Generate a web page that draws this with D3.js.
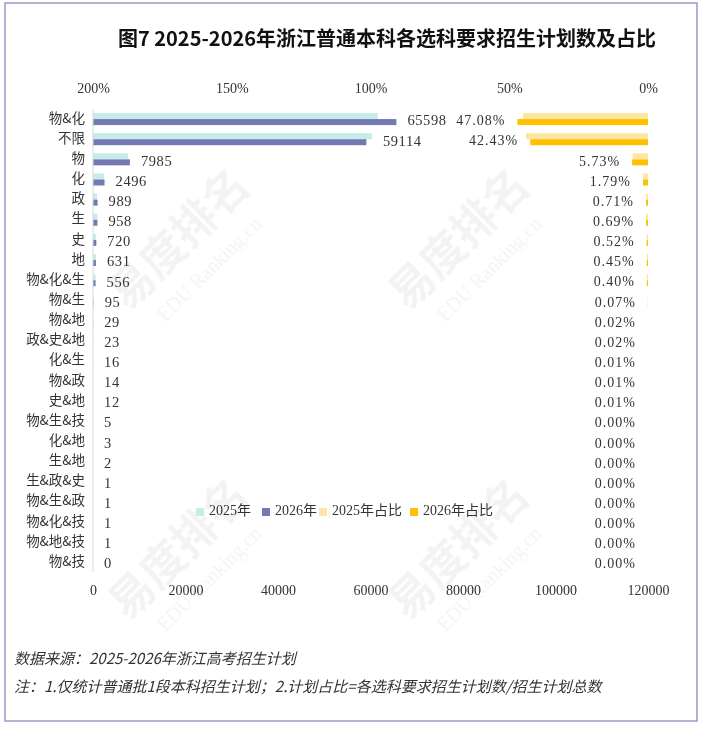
<!DOCTYPE html>
<html>
  <head>
    <meta charset="utf-8" />
    <title>图7 选科要求招生计划数及占比</title>
    <script src="https://d3js.org/d3.v7.min.js"></script>
    <style>
      body { margin: 0; background: #ffffff; }
      text { font-family: "Liberation Serif", "Noto Sans CJK SC", serif; fill: #333333; }
      .cjk { font-family: "Noto Sans CJK SC", sans-serif; }
    </style>
  </head>
  <body>
    <svg id="chart" width="706" height="732"></svg>
  </body>
  <script>
    // data
    var categories = ["物&化", "不限", "物", "化", "政", "生", "史", "地", "物&化&生", "物&生",
      "物&地", "政&史&地", "化&生", "物&政", "史&地", "物&生&技", "化&地", "生&地",
      "生&政&史", "物&生&政", "物&化&技", "物&地&技", "物&技"];
    var plan2025 = [61600, 60300, 7570, 2380, 870, 950, 680, 650, 560, 150,
      40, 30, 20, 20, 15, 8, 5, 3, 2, 2, 1, 1, 1];
    var plan2026 = [65598, 59114, 7985, 2496, 989, 958, 720, 631, 556, 95,
      29, 23, 16, 14, 12, 5, 3, 2, 1, 1, 1, 1, 0];
    var share2025 = [45.0, 44.0, 5.52, 1.74, 0.64, 0.69, 0.50, 0.47, 0.41, 0.11,
      0.03, 0.02, 0.01, 0.01, 0.01, 0.01, 0, 0, 0, 0, 0, 0, 0];
    var share2026 = [47.08, 42.43, 5.73, 1.79, 0.71, 0.69, 0.52, 0.45, 0.40, 0.07,
      0.02, 0.02, 0.01, 0.01, 0.01, 0.00, 0.00, 0.00, 0.00, 0.00, 0.00, 0.00, 0.00];
    var countTicks = [0, 20000, 40000, 60000, 80000, 100000, 120000];
    var shareTicks = [200, 150, 100, 50, 0];
    var legendNames = ["2025年", "2026年", "2025年占比", "2026年占比"];
    var colors = ["#c6ebe9", "#7579b3", "#fde6a0", "#ffc000"];

    var svg = d3.select("#chart");

    // frame
    svg.append("rect")
      .attr("x", 5).attr("y", 3).attr("width", 692).attr("height", 718)
      .attr("fill", "none").attr("stroke", "#7f81b9").attr("stroke-width", 1.2);

    // faint watermark, kept inside the frame
    var wm = svg.append("g").attr("opacity", 0.05);
    [[190, 250], [470, 250], [190, 560], [470, 560]]
      .forEach(function(p){
        var g = wm.append("g").attr("transform", "translate(" + p[0] + "," + p[1] + ") rotate(-45)");
        g.append("text").attr("class", "cjk").attr("text-anchor", "middle")
          .attr("font-size", 44).attr("font-weight", "bold").style("fill", "#000").text("易度排名");
        g.append("text").attr("text-anchor", "middle").attr("y", 34)
          .attr("font-size", 20).style("fill", "#000").text("EDU Ranking.cn");
      });

    // title
    svg.append("text")
      .attr("class", "cjk")
      .attr("x", 387).attr("y", 41)
      .attr("text-anchor", "middle").attr("dominant-baseline", "middle")
      .attr("font-size", 20).attr("font-weight", "bold")
      .style("fill", "#111")
      .text("图7  2025-2026年浙江普通本科各选科要求招生计划数及占比");

    var x = d3.scaleLinear().domain([0, 120000]).range([93, 648]);
    var xs = d3.scaleLinear().domain([0, 200]).range([648, 93]);
    var y = d3.scaleBand().domain(categories).range([109, 572.2]).padding(0);
    var barH = 6;

    var rows = categories.map(function(c, i){
      return { cat: c, a: plan2025[i], b: plan2026[i], sa: share2025[i], sb: share2026[i] };
    });

    var mid = function(d){ return y(d.cat) + y.bandwidth() / 2; };

    // count bars
    svg.selectAll(".bar25").data(rows).enter().append("rect")
      .attr("class", "bar25")
      .attr("x", x(0)).attr("y", function(d){ return mid(d) - barH; })
      .attr("width", function(d){ return x(d.a) - x(0); })
      .attr("height", barH).attr("fill", colors[0]);
    svg.selectAll(".bar26").data(rows).enter().append("rect")
      .attr("class", "bar26")
      .attr("x", x(0)).attr("y", function(d){ return mid(d); })
      .attr("width", function(d){ return x(d.b) - x(0); })
      .attr("height", barH).attr("fill", colors[1]);

    // share bars, drawn from the right
    svg.selectAll(".sh25").data(rows).enter().append("rect")
      .attr("class", "sh25")
      .attr("x", function(d){ return xs(d.sa); }).attr("y", function(d){ return mid(d) - barH; })
      .attr("width", function(d){ return xs(0) - xs(d.sa); })
      .attr("height", barH).attr("fill", colors[2]);
    svg.selectAll(".sh26").data(rows).enter().append("rect")
      .attr("class", "sh26")
      .attr("x", function(d){ return xs(d.sb); }).attr("y", function(d){ return mid(d); })
      .attr("width", function(d){ return xs(0) - xs(d.sb); })
      .attr("height", barH).attr("fill", colors[3]);

    // vertical axis line
    svg.append("line")
      .attr("x1", x(0)).attr("x2", x(0)).attr("y1", 109).attr("y2", 572)
      .attr("stroke", "#d9d9d9").attr("stroke-width", 1);

    // category labels
    svg.selectAll(".cat").data(rows).enter().append("text")
      .attr("class", "cat cjk")
      .attr("x", 85).attr("y", function(d){ return mid(d); })
      .attr("text-anchor", "end").attr("dominant-baseline", "middle")
      .attr("font-size", 13.5)
      .text(function(d){ return d.cat; });

    // value labels
    svg.selectAll(".val").data(rows).enter().append("text")
      .attr("class", "val")
      .attr("x", function(d){ return x(Math.max(d.a, d.b)) + 11; })
      .attr("y", function(d){ return mid(d) + 3; })
      .attr("dominant-baseline", "middle")
      .attr("font-size", 14.5).attr("letter-spacing", 0.6)
      .text(function(d){ return d.b; });

    svg.selectAll(".pct").data(rows).enter().append("text")
      .attr("class", "pct")
      .attr("x", function(d){ return xs(d.sb) - 12; })
      .attr("y", function(d){ return mid(d) + 3; })
      .attr("text-anchor", "end").attr("dominant-baseline", "middle")
      .attr("font-size", 14).attr("letter-spacing", 1)
      .text(function(d){ return d.sb.toFixed(2) + "%"; });

    // bottom axis (counts)
    var bottomAxis = d3.axisBottom(x).tickValues(countTicks).tickSize(0).tickFormat(d3.format("d"));
    var gb = svg.append("g").attr("transform", "translate(0,582)").call(bottomAxis);
    gb.select(".domain").remove();
    gb.selectAll("text").attr("font-size", 14).attr("fill", "#333");

    // top axis (shares)
    var topAxis = d3.axisTop(xs).tickValues(shareTicks).tickSize(0).tickFormat(function(d){ return d + "%"; });
    var gt = svg.append("g").attr("transform", "translate(0,96)").call(topAxis);
    gt.select(".domain").remove();
    gt.selectAll("text").attr("font-size", 14).attr("fill", "#333");

    // legend
    var legX = [196, 262, 319, 410];
    var leg = svg.selectAll(".leg").data(legendNames).enter().append("g")
      .attr("class", "leg")
      .attr("transform", function(d, i){ return "translate(" + legX[i] + ",512)"; });
    leg.append("rect").attr("x", 0).attr("y", -4).attr("width", 8).attr("height", 8)
      .attr("fill", function(d, i){ return colors[i]; });
    leg.append("text").attr("x", 13).attr("y", 0)
      .attr("dominant-baseline", "middle").attr("font-size", 14)
      .text(function(d){ return d; });

    // notes
    svg.append("text").attr("class", "cjk")
      .attr("x", 14).attr("y", 660).attr("dominant-baseline", "middle")
      .attr("font-size", 15).attr("font-style", "italic")
      .text("数据来源：2025-2026年浙江高考招生计划");
    svg.append("text").attr("class", "cjk")
      .attr("x", 14).attr("y", 688).attr("dominant-baseline", "middle")
      .attr("font-size", 15).attr("font-style", "italic")
      .text("注：1.仅统计普通批1段本科招生计划；2.计划占比=各选科要求招生计划数/招生计划总数");
  </script>
</html>
